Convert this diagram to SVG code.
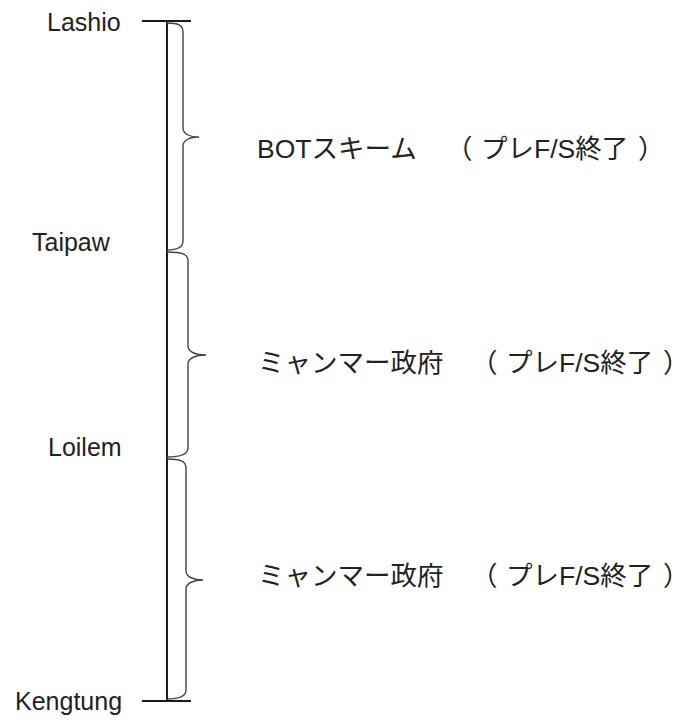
<svg xmlns="http://www.w3.org/2000/svg" width="682" height="722" viewBox="0 0 682 722">
<style>
.lbl{font-family:"Liberation Sans",Arial,sans-serif;font-size:25px;fill:#222}
.jp{font-family:"Liberation Sans","Noto Sans CJK JP",sans-serif;font-size:26.5px;fill:#222}
.axis{stroke:#1a1a1a;stroke-width:2;fill:none}
.brace{stroke:#444;stroke-width:1.4;fill:none}
</style>
<rect width="682" height="722" fill="#fff"/>
<g id="connectors">
<line class="axis" x1="167" y1="21" x2="167" y2="701"/>
<line class="axis" x1="142" y1="21" x2="191" y2="21"/>
<line class="axis" x1="142" y1="701" x2="191" y2="701"/>
</g>
<g id="brace1"><path class="brace" d="M167,23 C178,23 183,25 183,32 L183,128 C183,134 190,137 199,137 C190,137 183,140 183,146 L183,241 C183,247 178,250 167,250"/></g>
<g id="brace2"><path class="brace" d="M167,252 C182,252 188,254 188,261 L188,346 C188,352 196,355 206,355 C196,355 188,358 188,364 L188,448 C188,454 182,457 167,457"/></g>
<g id="brace3"><path class="brace" d="M167,459 C180,459 186,461 186,468 L186,571 C186,577 194,580 203,580 C194,580 186,583 186,589 L186,690 C186,696 180,699 167,699"/></g>
<g id="Lashio"><text class="lbl" x="47" y="31">Lashio</text></g>
<g id="Taipaw"><text class="lbl" x="32" y="251">Taipaw</text></g>
<g id="Loilem"><text class="lbl" x="48" y="456">Loilem</text></g>
<g id="Kengtung"><text class="lbl" x="15" y="710">Kengtung</text></g>
<g id="label1"><text class="jp" x="257" y="158">BOTスキーム<tspan x="446">（</tspan><tspan x="481">プレF/S終了</tspan><tspan x="638">）</tspan></text></g>
<g id="label2"><text class="jp" x="258" y="372">ミャンマー政府<tspan x="471">（</tspan><tspan x="506">プレF/S終了</tspan><tspan x="663">）</tspan></text></g>
<g id="label3"><text class="jp" x="258" y="585">ミャンマー政府<tspan x="471">（</tspan><tspan x="506">プレF/S終了</tspan><tspan x="663">）</tspan></text></g>
</svg>
